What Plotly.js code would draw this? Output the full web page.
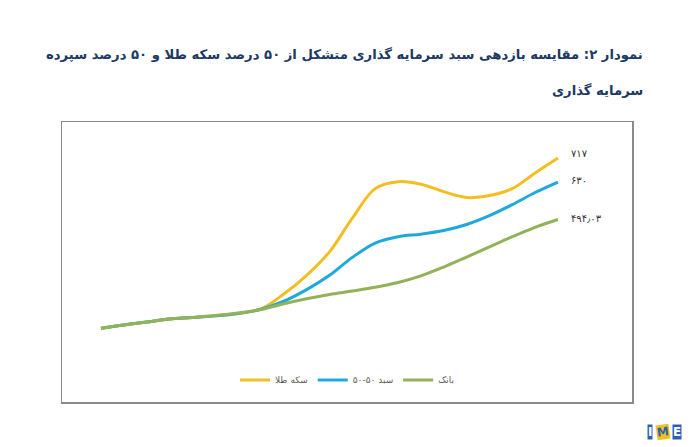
<!DOCTYPE html>
<html>
<head>
<meta charset="utf-8">
<script src="https://cdn.plot.ly/plotly-3.0.1.min.js"></script>
<style>
html,body{margin:0;padding:0;background:#fff;}
#chart{width:697px;height:447px;}
</style>
</head>
<body>
<div id="chart"></div>
<script>
// Periods (index points along the x axis)
var periods = [0,1,2,3,4,5,6,7,8,9,10,11,12,13,14,15,16,17,18,19,20];
// Series values (index, base 100)
var goldCoin = [100,112,122.8,133.7,139,145,154,170,224,292,377,499,606,631,622,595,574,581,606,663,717];
var basket5050 = [100,112,122.8,133.7,139,145,154,169,198,240,292,357,409,432,441,454,476,508,548,592,630];
var bank = [100,112,122.8,133.7,139.5,146.4,155.4,168.1,189,207,222.5,235,248.5,266,290,322,358,395,432,466,494.03];
// Names and end labels
var seriesNames = ["سکه طلا", "سبد ۵۰-۵۰", "بانک"];
var endLabels = ["۷۱۷", "۶۳۰", "۴۹۴٫۰۳"];
var titleLine1 = "نمودار ۲: مقایسه بازدهی سبد سرمایه گذاری متشکل از ۵۰ درصد سکه طلا و ۵۰ درصد سپرده";
var titleLine2 = "سرمایه گذاری";

var colors = ["#F4BE22", "#1EA9DD", "#93B158"];
var seriesData = [goldCoin, basket5050, bank];

var traces = seriesData.map(function(d, i){
  return {
    x: periods, y: d, type: 'scatter', mode: 'lines', name: seriesNames[i],
    line: {color: colors[i], width: 3, shape: 'spline', smoothing: 1},
    hoverinfo: 'skip'
  };
});

var last = periods.length - 1;
var labelShift = [4, 2, 1];
var annotations = endLabels.map(function(t, i){
  return {
    x: periods[last], y: seriesData[i][last], xref: 'x', yref: 'y',
    text: t, showarrow: false, xanchor: 'left', yanchor: 'middle',
    xshift: 11, yshift: labelShift[i],
    font: {family: 'DejaVu Sans, sans-serif', size: 10, color: '#333333'}
  };
});

annotations.push({
  xref: 'paper', yref: 'paper', x: 1.0228, y: 1.24, xanchor: 'right', yanchor: 'middle',
  text: '<b>' + titleLine1 + '</b>', showarrow: false,
  font: {family: 'DejaVu Sans, sans-serif', size: 13.2, color: '#203864'}
});
annotations.push({
  xref: 'paper', yref: 'paper', x: 1.0228, y: 1.114, xanchor: 'right', yanchor: 'middle',
  text: '<b>' + titleLine2 + '</b>', showarrow: false,
  font: {family: 'DejaVu Sans, sans-serif', size: 13.2, color: '#203864'}
});

// IME logo
var logo = [
  {t: 'I', x: 1.031, bg: '#2E5FB8', c: '#ffffff', a: 0},
  {t: 'M', x: 1.054, bg: '#F2C21B', c: '#2E5FB8', a: -8},
  {t: 'E', x: 1.079, bg: '#2E5FB8', c: '#ffffff', a: 0}
];
logo.forEach(function(l){
  annotations.push({
    xref: 'paper', yref: 'paper', x: l.x, y: -0.107, xanchor: 'center', yanchor: 'middle',
    text: '<b>' + l.t + '</b>', showarrow: false, bgcolor: l.bg, textangle: l.a,
    borderpad: 0, font: {family: 'DejaVu Sans, sans-serif', size: 12, color: l.c}
  });
});

var layout = {
  width: 697, height: 447,
  margin: {l: 62, r: 65, t: 122, b: 45, pad: 0},
  paper_bgcolor: '#ffffff', plot_bgcolor: '#ffffff',
  showlegend: true,
  legend: {orientation: 'h', x: 0.5, xanchor: 'center', y: 0.079, yanchor: 'middle',
           font: {family: 'DejaVu Sans, sans-serif', size: 9, color: '#595959'},
           bgcolor: 'rgba(0,0,0,0)', itemwidth: 30, traceorder: 'normal'},
  xaxis: {range: [-1.707, 23.239], showgrid: false, zeroline: false, showticklabels: false,
          ticks: '', showline: true, mirror: true, linecolor: '#8a8a8a', linewidth: 1.5, fixedrange: true},
  yaxis: {range: [-167, 847.4], showgrid: false, zeroline: false, showticklabels: false,
          ticks: '', showline: true, mirror: true, linecolor: '#8a8a8a', linewidth: 1.5, fixedrange: true},
  annotations: annotations
};

Plotly.newPlot('chart', traces, layout, {displayModeBar: false, staticPlot: true});
</script>
</body>
</html>
